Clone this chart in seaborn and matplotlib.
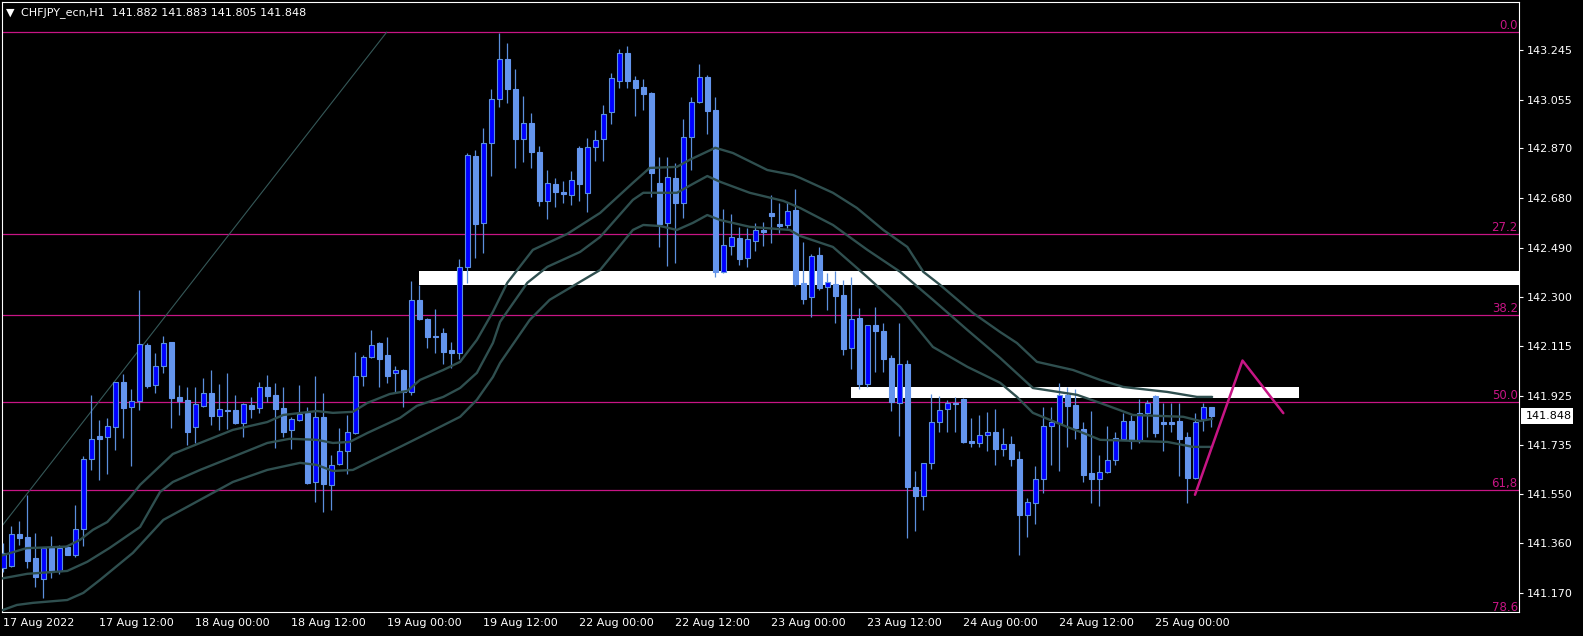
import numpy as np
import pandas as pd
import matplotlib
matplotlib.use("Agg")
import matplotlib.pyplot as plt
import matplotlib.transforms as mtransforms
from matplotlib.patches import Rectangle
import seaborn as sns

# ---------------- data (CHFJPY H1, bars 0..151, 17 Aug 00:00 -> 25 Aug 07:00) ----------------
opens = [141.265, 141.272, 141.395, 141.384, 141.304, 141.223, 141.342, 141.256, 141.348, 141.316,
         141.414, 141.682, 141.771, 141.766, 141.804, 141.976, 141.881, 141.905, 142.119, 141.966,
         142.038, 142.128, 141.919, 141.909, 141.804, 141.886, 141.934, 141.848, 141.870, 141.870,
         141.822, 141.889, 141.877, 141.957, 141.928, 141.879, 141.794, 141.832, 141.858, 141.593,
         141.845, 141.583, 141.663, 141.714, 141.781, 142.000, 142.072, 142.125, 142.081, 142.013,
         142.023, 141.940, 142.291, 142.218, 142.153, 142.163, 142.100, 142.089, 142.416, 142.842,
         142.584, 142.889, 143.059, 143.210, 143.096, 142.905, 142.968, 142.857, 142.670, 142.734,
         142.703, 142.691, 142.872, 142.698, 142.876, 142.905, 143.010, 143.129, 143.233, 143.131,
         143.103, 143.080, 142.739, 142.586, 142.756, 142.662, 142.912, 143.045, 143.142, 143.017,
         142.399, 142.497, 142.529, 142.450, 142.517, 142.558, 142.624, 142.581, 142.577, 142.635,
         142.356, 142.301, 142.463, 142.339, 142.352, 142.310, 142.106, 142.221, 141.968, 142.195,
         142.172, 142.070, 141.898, 142.045, 141.575, 141.543, 141.667, 141.823, 141.873, 141.898,
         141.912, 141.752, 141.743, 141.775, 141.787, 141.721, 141.740, 141.683, 141.469, 141.516,
         141.607, 141.810, 141.822, 141.928, 141.889, 141.797, 141.631, 141.606, 141.632, 141.679,
         141.758, 141.828, 141.753, 141.858, 141.924, 141.823, 141.823, 141.828, 141.766, 141.609,
         141.835, 141.882]
highs = [141.361, 141.427, 141.447, 141.546, 141.399, 141.346, 141.389, 141.354, 141.354, 141.507,
         141.696, 141.928, 141.832, 141.839, 141.978, 142.008, 141.949, 142.329, 142.125, 142.087,
         142.153, 142.131, 141.966, 141.957, 141.957, 141.991, 142.023, 141.970, 142.011, 141.928,
         141.896, 141.919, 141.978, 142.004, 141.975, 141.959, 141.842, 141.966, 141.883, 142.000,
         141.934, 141.698, 141.800, 141.851, 142.093, 142.081, 142.176, 142.128, 142.150, 142.038,
         142.026, 142.363, 142.348, 142.222, 142.255, 142.183, 142.131, 142.446, 142.851, 142.864,
         142.949, 143.097, 143.312, 143.272, 143.173, 143.070, 143.004, 142.879, 142.787, 142.758,
         142.745, 142.784, 142.879, 142.909, 142.940, 143.036, 143.159, 143.249, 143.261, 143.147,
         143.134, 143.087, 142.838, 142.838, 142.815, 142.981, 143.067, 143.192, 143.150, 143.065,
         142.637, 142.619, 142.571, 142.565, 142.584, 142.590, 142.692, 142.662, 142.666, 142.714,
         142.513, 142.466, 142.491, 142.393, 142.403, 142.367, 142.380, 142.259, 142.195, 142.265,
         142.202, 142.081, 142.202, 142.061, 141.635, 141.668, 141.931, 141.925, 141.909, 141.921,
         141.916, 141.841, 141.851, 141.862, 141.874, 141.800, 141.771, 141.714, 141.535, 141.656,
         141.881, 141.883, 141.975, 141.959, 141.949, 141.826, 141.868, 141.698, 141.807, 141.784,
         141.860, 141.851, 141.912, 141.909, 141.926, 141.898, 141.898, 141.898, 141.787, 141.858,
         141.898, 141.883]
lows = [141.251, 141.270, 141.354, 141.265, 141.195, 141.153, 141.227, 141.244, 141.314, 141.310,
        141.351, 141.641, 141.603, 141.626, 141.718, 141.762, 141.657, 141.870, 141.953, 141.936,
        142.013, 141.800, 141.851, 141.737, 141.745, 141.883, 141.813, 141.794, 141.797, 141.817,
        141.766, 141.839, 141.858, 141.902, 141.724, 141.766, 141.720, 141.829, 141.588, 141.520,
        141.479, 141.486, 141.660, 141.626, 141.779, 141.962, 142.068, 141.959, 141.972, 141.940,
        141.883, 141.928, 142.214, 142.106, 142.089, 142.046, 142.030, 142.064, 142.357, 142.452,
        142.471, 142.766, 143.029, 143.042, 142.796, 142.819, 142.794, 142.650, 142.599, 142.647,
        142.660, 142.654, 142.670, 142.628, 142.823, 142.823, 142.963, 143.102, 143.102, 142.994,
        143.017, 142.685, 142.494, 142.421, 142.433, 142.605, 142.787, 143.042, 142.925, 142.377,
        142.395, 142.463, 142.424, 142.418, 142.479, 142.497, 142.510, 142.546, 142.565, 142.344,
        142.275, 142.224, 142.329, 142.251, 142.202, 142.081, 142.026, 141.949, 141.957, 142.017,
        142.017, 141.868, 141.771, 141.382, 141.408, 141.486, 141.644, 141.784, 141.784, 141.784,
        141.743, 141.730, 141.730, 141.715, 141.660, 141.695, 141.656, 141.316, 141.386, 141.435,
        141.554, 141.660, 141.638, 141.730, 141.760, 141.596, 141.516, 141.505, 141.628, 141.660,
        141.756, 141.721, 141.743, 141.768, 141.768, 141.715, 141.787, 141.619, 141.516, 141.607,
        141.791, 141.805]
closes = [141.323, 141.395, 141.382, 141.294, 141.231, 141.342, 141.252, 141.342, 141.316, 141.414,
          141.682, 141.758, 141.758, 141.809, 141.976, 141.877, 141.905, 142.121, 141.962, 142.038,
          142.125, 141.917, 141.905, 141.784, 141.892, 141.934, 141.848, 141.873, 141.868, 141.822,
          141.892, 141.874, 141.957, 141.924, 141.874, 141.787, 141.835, 141.854, 141.590, 141.845,
          141.586, 141.660, 141.714, 141.785, 142.000, 142.072, 142.119, 142.064, 141.998, 142.023,
          141.940, 142.291, 142.217, 142.150, 142.150, 142.093, 142.089, 142.418, 142.845, 142.581,
          142.889, 143.059, 143.210, 143.096, 142.905, 142.968, 142.857, 142.670, 142.737, 142.704,
          142.695, 142.748, 142.733, 142.874, 142.902, 143.000, 143.138, 143.233, 143.129, 143.102,
          143.078, 142.775, 142.581, 142.762, 142.662, 142.912, 143.045, 143.142, 143.014, 142.399,
          142.501, 142.530, 142.446, 142.523, 142.558, 142.552, 142.612, 142.573, 142.631, 142.352,
          142.295, 142.459, 142.335, 142.358, 142.307, 142.103, 142.218, 141.970, 142.195, 142.170,
          142.065, 141.902, 142.045, 141.577, 141.543, 141.667, 141.823, 141.870, 141.898, 141.892,
          141.749, 141.743, 141.775, 141.787, 141.721, 141.740, 141.683, 141.469, 141.520, 141.607,
          141.809, 141.823, 141.928, 141.887, 141.800, 141.622, 141.606, 141.632, 141.679, 141.762,
          141.828, 141.752, 141.858, 141.896, 141.781, 141.817, 141.817, 141.758, 141.612, 141.823,
          141.881, 141.848]

# moving-average style lines (bar position, price)
ma_upper_bars = [-0.4, 2.9, 7.9, 9.6, 11.2, 13.0, 15.8, 17.1, 21.2, 24.6, 28.7, 33.0, 35.0, 39.2, 41.2,
                 43.7, 45.5, 48.3, 50.5, 52.1, 55.0, 57.1, 59.2, 61.2, 63.0, 66.2, 70.5, 74.6, 78.7,
                 80.8, 84.2, 85.8, 89.0, 91.2, 95.5, 98.7, 99.6, 103.7, 106.7, 110.0, 113.0, 115.0,
                 117.1, 121.2, 124.6, 126.7, 129.2, 133.7, 137.1, 140.0, 145.5, 149.2, 151.1]
ma_upper_vals = [141.312, 141.342, 141.348, 141.374, 141.412, 141.442, 141.534, 141.584, 141.702,
                 141.744, 141.794, 141.824, 141.851, 141.866, 141.859, 141.863, 141.897, 141.931,
                 141.943, 141.985, 142.023, 142.054, 142.138, 142.245, 142.356, 142.482, 142.543,
                 142.623, 142.738, 142.795, 142.799, 142.826, 142.872, 142.852, 142.787, 142.768,
                 142.757, 142.700, 142.642, 142.558, 142.493, 142.398, 142.348, 142.241, 142.168,
                 142.126, 142.054, 142.023, 141.985, 141.958, 141.939, 141.920, 141.920]
ma_mid_bars = [-0.4, 3.0, 8.0, 10.5, 13.3, 17.1, 19.6, 21.2, 24.6, 28.7, 33.0, 35.8, 39.2, 41.2, 43.3,
               45.5, 49.6, 51.7, 55.0, 57.1, 59.2, 61.2, 62.1, 65.5, 68.0, 72.1, 74.6, 78.7, 80.0,
               84.2, 86.2, 88.0, 89.6, 93.3, 97.5, 99.6, 103.7, 108.0, 112.1, 116.2, 120.5, 124.6,
               128.7, 134.2, 137.1, 141.2, 147.5, 149.6, 151.1]
ma_mid_vals = [141.225, 141.244, 141.255, 141.290, 141.343, 141.423, 141.557, 141.595, 141.641,
               141.691, 141.744, 141.760, 141.756, 141.744, 141.748, 141.782, 141.840, 141.886,
               141.920, 141.954, 142.012, 142.126, 142.207, 142.356, 142.417, 142.474, 142.531,
               142.673, 142.700, 142.700, 142.734, 142.764, 142.742, 142.700, 142.669, 142.642,
               142.577, 142.482, 142.398, 142.291, 142.176, 142.069, 141.954, 141.928, 141.897,
               141.851, 141.844, 141.828, 141.836]
ma_low_bars = [-0.4, 1.7, 3.7, 8.0, 10.0, 12.1, 16.2, 20.0, 23.0, 28.7, 33.0, 37.1, 39.2, 41.2, 43.7,
               45.5, 49.6, 52.1, 57.1, 59.2, 61.2, 62.1, 65.8, 68.3, 72.5, 74.6, 78.7, 80.0, 82.1,
               84.2, 86.2, 88.0, 89.6, 93.3, 98.3, 99.6, 103.7, 108.0, 112.1, 116.2, 120.5, 124.6,
               126.7, 128.7, 133.0, 135.0, 137.1, 145.5, 148.7, 151.1]
ma_low_vals = [141.102, 141.125, 141.133, 141.144, 141.171, 141.221, 141.324, 141.450, 141.500,
               141.595, 141.641, 141.668, 141.660, 141.637, 141.641, 141.668, 141.729, 141.767,
               141.844, 141.909, 141.996, 142.050, 142.214, 142.291, 142.367, 142.405, 142.558,
               142.577, 142.573, 142.558, 142.585, 142.615, 142.596, 142.570, 142.558, 142.535,
               142.493, 142.378, 142.264, 142.111, 142.035, 141.974, 141.920, 141.859, 141.805,
               141.782, 141.756, 141.748, 141.729, 141.729]

# Fibonacci retracement
fib_high = 143.313
fib_low = 140.486
fib_levels = [0.0, 27.2, 38.2, 50.0, 61.8, 78.6]
fib_labels = ["0.0", "27.2", "38.2", "50.0", "61,8", "78.6"]

# drawn objects
zone1_bars = [51.96, 189.5]
zone1_prices = [142.348, 142.401]
zone2_bars = [105.96, 161.96]
zone2_prices = [141.917, 141.957]
trend_bars = [-0.16, 47.93]
trend_prices = [141.427, 143.314]
zigzag_bars = [148.96, 154.9, 160.0]
zigzag_prices = [141.546, 142.059, 141.858]

ytick_vals = [143.245, 143.055, 142.870, 142.680, 142.490, 142.300, 142.115,
              141.925, 141.735, 141.550, 141.360, 141.170]
xtick_bars = [0, 12, 24, 36, 48, 60, 72, 84, 96, 108, 120, 132, 144]
xtick_labels = ["17 Aug 2022", "17 Aug 12:00", "18 Aug 00:00", "18 Aug 12:00", "19 Aug 00:00",
                "19 Aug 12:00", "22 Aug 00:00", "22 Aug 12:00", "23 Aug 00:00", "23 Aug 12:00",
                "24 Aug 00:00", "24 Aug 12:00", "25 Aug 00:00"]
symbol_title = "CHFJPY_ecn,H1  141.882 141.883 141.805 141.848"
last_price = 141.848

# ---------------- styling ----------------
sns.set_style("dark", {"axes.facecolor": "black", "figure.facecolor": "black"})
plt.rcParams['font.family'] = ['DejaVu Sans']

W, H = 1583, 636
fig = plt.figure(figsize=(W / 100, H / 100), dpi=100)
fig.patch.set_facecolor("black")
ax = fig.add_axes([2 / W, (H - 611.5) / H, 1517 / W, 609.5 / H])
ax.set_facecolor("black")
ax.grid(False)

ax.set_xlim(-0.16, 189.46)
ax.set_ylim(141.100, 143.429)

WICK = "#5B8FDC"
BULL = "#0000FF"
BEAR = "#6495ED"
MA_COL = "#2F4F4F"
FIB_COL = "#C71585"

o = np.array(opens); h = np.array(highs); l = np.array(lows); c = np.array(closes)
x = np.arange(len(o))
bull = c >= o
bear = ~bull

# background zones
for zb, zp in [(zone1_bars, zone1_prices), (zone2_bars, zone2_prices)]:
    ax.add_patch(Rectangle((zb[0], zp[0]), zb[1] - zb[0], zp[1] - zp[0],
                           facecolor="white", edgecolor="none", zorder=1))

# fib lines and labels
for lvl, lab in zip(fib_levels, fib_labels):
    p = fib_high - lvl / 100.0 * (fib_high - fib_low)
    ax.axhline(p, color=FIB_COL, lw=0.9, zorder=2)
    ax.text(189.3, p, lab, ha="right", va="bottom", color=FIB_COL, fontsize=8.5, zorder=6,
            clip_on=False)

# trend line
ax.plot(trend_bars, trend_prices, color="#355858", lw=0.8, zorder=2)

# candles
ax.vlines(x, l, h, color=WICK, lw=0.9, zorder=3)
ax.bar(x[bull], c[bull] - o[bull], bottom=o[bull], width=0.58, color=BULL,
       edgecolor=WICK, linewidth=0.8, zorder=4)
ax.bar(x[bear], o[bear] - c[bear], bottom=c[bear], width=0.58, color=BEAR,
       edgecolor=BEAR, linewidth=0.8, zorder=4)

# moving-average lines via seaborn
ma_df = pd.concat([
    pd.DataFrame({"bar": ma_upper_bars, "price": ma_upper_vals, "line": "upper"}),
    pd.DataFrame({"bar": ma_mid_bars, "price": ma_mid_vals, "line": "mid"}),
    pd.DataFrame({"bar": ma_low_bars, "price": ma_low_vals, "line": "low"}),
], ignore_index=True)
sns.lineplot(data=ma_df, x="bar", y="price", units="line", estimator=None, sort=False,
             color=MA_COL, lw=1.7, ax=ax, legend=False, zorder=5)

# zigzag projection
ax.plot(zigzag_bars, zigzag_prices, color=FIB_COL, lw=1.8, zorder=6)

# axes
ax.set_xlabel("")
ax.set_ylabel("")
for s in ax.spines.values():
    s.set_color("white")
    s.set_linewidth(0.8)
    s.set_visible(True)

ax.yaxis.tick_right()
ax.set_yticks(ytick_vals)
ax.set_yticklabels([f"{v:.3f}" for v in ytick_vals])
ax.set_xticks(xtick_bars)
ax.set_xticklabels(xtick_labels, ha="left")
ax.tick_params(axis="y", colors="white", length=3, width=0.8, pad=2.5, labelsize=8,
               direction="out", right=True, left=False, labelright=True, labelleft=False)
ax.tick_params(axis="x", colors="white", length=3, width=0.8, pad=1.5, labelsize=8,
               direction="out")
for t in ax.get_xticklabels():
    t.set_horizontalalignment("left")

# current price label
trans = mtransforms.blended_transform_factory(ax.transAxes, ax.transData)
ax.add_patch(Rectangle((1.0013, last_price - 0.030), 0.0343, 0.060, transform=trans,
                       facecolor="white", edgecolor="none", clip_on=False, zorder=7))
ax.text(1.0046, last_price, f"{last_price:.3f}", transform=trans, ha="left", va="center",
        color="black", fontsize=8, clip_on=False, zorder=8)

# title
fig.text(6 / W, 1 - 12.5 / H, "▼", color="white", fontsize=8, va="center", ha="left")
fig.text(21 / W, 1 - 12.5 / H, symbol_title, color="white", fontsize=8, va="center", ha="left")

fig.savefig("out.png", dpi=100, facecolor="black")
